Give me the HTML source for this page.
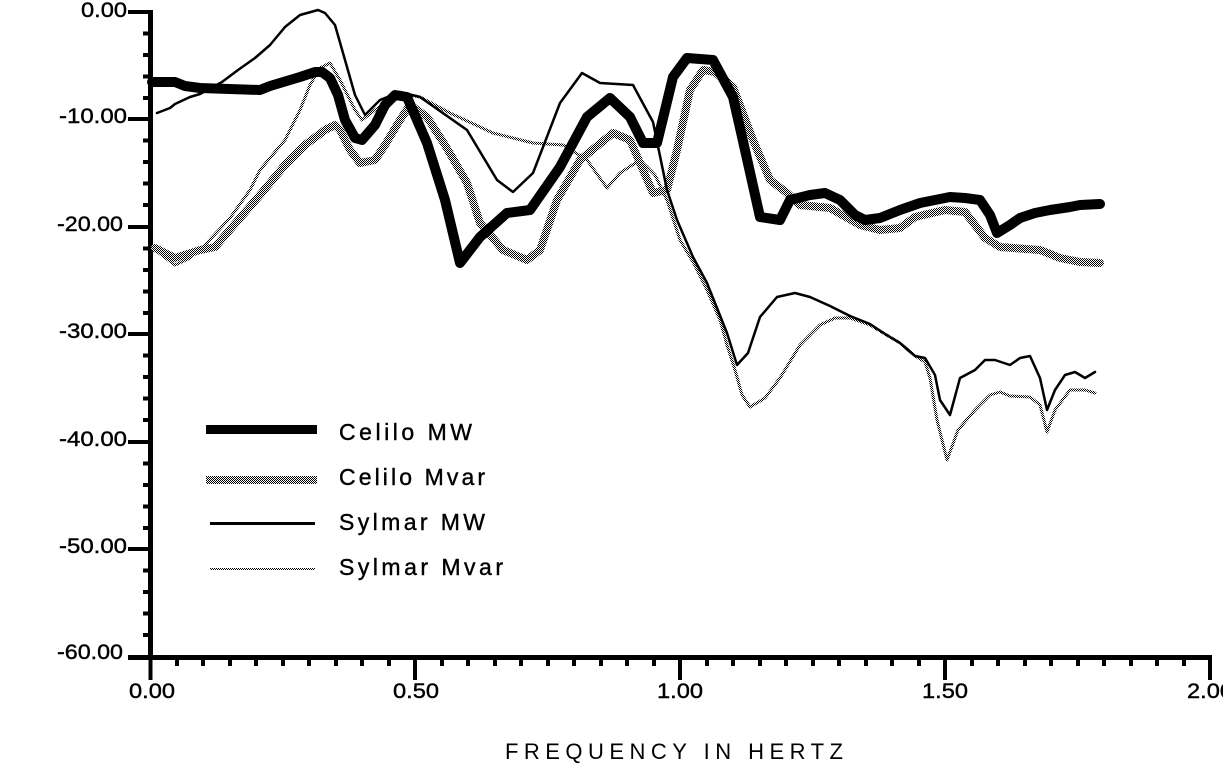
<!DOCTYPE html>
<html><head><meta charset="utf-8"><style>
html,body{margin:0;padding:0;background:#fff;}
svg{display:block;}
text{font-family:"Liberation Sans",sans-serif;fill:#000;}
</style></head><body>
<svg width="1223" height="768" viewBox="0 0 1223 768" xmlns="http://www.w3.org/2000/svg">
<defs>
<pattern id="dots" width="2" height="2" patternUnits="userSpaceOnUse">
<rect width="2" height="2" fill="#fff"/><rect width="1" height="1" fill="#000"/><rect x="1" y="1" width="1" height="1" fill="#000"/>
</pattern>
</defs>
<g fill="#000">
<rect x="148" y="10" width="5" height="650"/>
<rect x="128" y="655" width="1084" height="5"/>
</g>
<g stroke="#000" stroke-width="4">
<path d="M128,12H150M128,119H150M128,227H150M128,334H150M128,442H150M128,549H150"/>
<path d="M143,33.5H150M143,55H150M143,76.5H150M143,98H150M143,140.5H150M143,162H150M143,183.5H150M143,205H150M143,248.5H150M143,270H150M143,291.5H150M143,313H150M143,355.5H150M143,377H150M143,398.5H150M143,420H150M143,463.5H150M143,485H150M143,506.5H150M143,528H150M143,570.5H150M143,592H150M143,613.5H150M143,635H150"/>
<path d="M150.5,658V680M415,658V680M680,658V680M945,658V680M1210,658V680"/>
<path d="M177,658V666M203,658V666M230,658V666M256,658V666M283,658V666M309,658V666M336,658V666M362,658V666M389,658V666M442,658V666M468,658V666M495,658V666M521,658V666M548,658V666M574,658V666M601,658V666M627,658V666M654,658V666M707,658V666M733,658V666M760,658V666M786,658V666M813,658V666M839,658V666M866,658V666M892,658V666M919,658V666M972,658V666M998,658V666M1025,658V666M1051,658V666M1078,658V666M1104,658V666M1131,658V666M1157,658V666M1184,658V666"/>
</g>
<g font-size="21" stroke="#000" stroke-width="0.4">
<text x="81" y="17" textLength="46" lengthAdjust="spacingAndGlyphs">0.00</text>
<text x="59" y="123" textLength="68" lengthAdjust="spacingAndGlyphs">-10.00</text>
<text x="57" y="231" textLength="66" lengthAdjust="spacingAndGlyphs">-20.00</text>
<text x="59" y="338" textLength="68" lengthAdjust="spacingAndGlyphs">-30.00</text>
<text x="59" y="446" textLength="68" lengthAdjust="spacingAndGlyphs">-40.00</text>
<text x="59" y="553" textLength="68" lengthAdjust="spacingAndGlyphs">-50.00</text>
<text x="57" y="659" textLength="66" lengthAdjust="spacingAndGlyphs">-60.00</text>
</g>
<g font-size="21" stroke="#000" stroke-width="0.4">
<text x="129" y="698" textLength="46" lengthAdjust="spacingAndGlyphs">0.00</text>
<text x="393" y="698" textLength="46" lengthAdjust="spacingAndGlyphs">0.50</text>
<text x="657" y="698" textLength="46" lengthAdjust="spacingAndGlyphs">1.00</text>
<text x="922" y="698" textLength="46" lengthAdjust="spacingAndGlyphs">1.50</text>
<text x="1187" y="698" textLength="46" lengthAdjust="spacingAndGlyphs">2.00</text>
</g>
<text x="505" y="759" font-size="22" textLength="338" lengthAdjust="spacing">FREQUENCY IN HERTZ</text>

<g fill="none" stroke-linejoin="round" stroke-linecap="round">
<polyline stroke="url(#dots)" stroke-width="8" points="155,248 175,258 200,250 215,247 240,218 260,195 285,165 305,145 325,130 335,125 340,130 350,150 360,163 375,160 385,145 400,120 410,105 427,117 445,145 467,183 480,223 503,250 527,260 540,250 557,200 580,160 613,133 630,140 653,193 667,190 677,150 690,90 703,70 715,72 733,87 753,140 770,180 787,193 800,205 830,208 860,225 880,230 900,228 915,217 945,210 965,212 985,238 1000,247 1040,250 1060,258 1080,262 1100,263"/>
<polyline stroke="url(#dots)" stroke-width="3" points="155,250 175,265 190,258 205,245 230,218 250,190 260,170 285,140 300,110 310,85 320,68 330,63 340,80 355,110 362,120 375,110 390,100 410,95 420,97 450,113 493,133 533,143 563,145 587,160 607,188 620,173 640,160 655,175 667,200 680,240 693,262 707,290 720,320 727,345 735,370 742,395 750,407 765,398 780,378 800,345 820,325 835,318 850,318 870,325 885,334 900,343 915,356 925,362 930,378 937,420 947,460 958,430 975,410 990,395 1000,392 1010,396 1030,397 1040,405 1047,432 1055,410 1070,390 1085,390 1095,393"/>
<polyline stroke="#000" stroke-width="10" points="152,82 175,82 185,86 200,88 260,90 270,86 290,80 300,77 315,72 322,72 330,78 338,95 345,120 355,138 362,140 375,125 385,105 395,95 407,97 427,143 445,200 460,263 480,237 507,213 530,210 560,167 587,117 610,98 630,117 643,143 657,143 673,77 687,58 713,60 733,97 745,150 760,217 780,220 790,200 810,195 825,193 840,200 855,215 865,220 880,218 900,210 920,203 935,200 950,197 965,198 980,200 990,215 997,233 1010,225 1020,218 1035,213 1050,210 1070,207 1080,205 1100,204"/>
<polyline stroke="#000" stroke-width="2.5" points="157,113 170,108 175,104 190,97 200,94 222,82 238,70 255,58 270,45 285,27 300,15 318,10 325,13 335,25 345,60 355,95 365,115 380,100 400,92 420,97 467,130 497,180 513,192 533,173 560,103 582,73 600,83 633,85 653,122 667,190 677,220 693,257 707,283 727,333 737,365 748,353 760,317 777,297 795,293 810,297 830,306 850,316 870,324 885,334 900,343 915,356 925,358 935,375 940,400 950,415 960,378 975,370 985,360 995,360 1010,365 1020,358 1030,356 1040,378 1047,410 1055,390 1065,375 1075,372 1085,378 1095,372"/>
</g>
<rect x="206" y="425" width="111" height="9" fill="#000"/>
<rect x="206" y="476" width="111" height="8" fill="url(#dots)"/>
<rect x="210" y="522" width="105" height="3" fill="#000"/>
<rect x="210" y="568" width="105" height="2" fill="url(#dots)"/>
<g font-size="23" stroke="#000" stroke-width="0.4">
<text x="339" y="440" textLength="133" lengthAdjust="spacing">Celilo MW</text>
<text x="339" y="485" textLength="146" lengthAdjust="spacing">Celilo Mvar</text>
<text x="339" y="530" textLength="146" lengthAdjust="spacing">Sylmar MW</text>
<text x="339" y="575" textLength="164" lengthAdjust="spacing">Sylmar Mvar</text>
</g>
</svg>
</body></html>
